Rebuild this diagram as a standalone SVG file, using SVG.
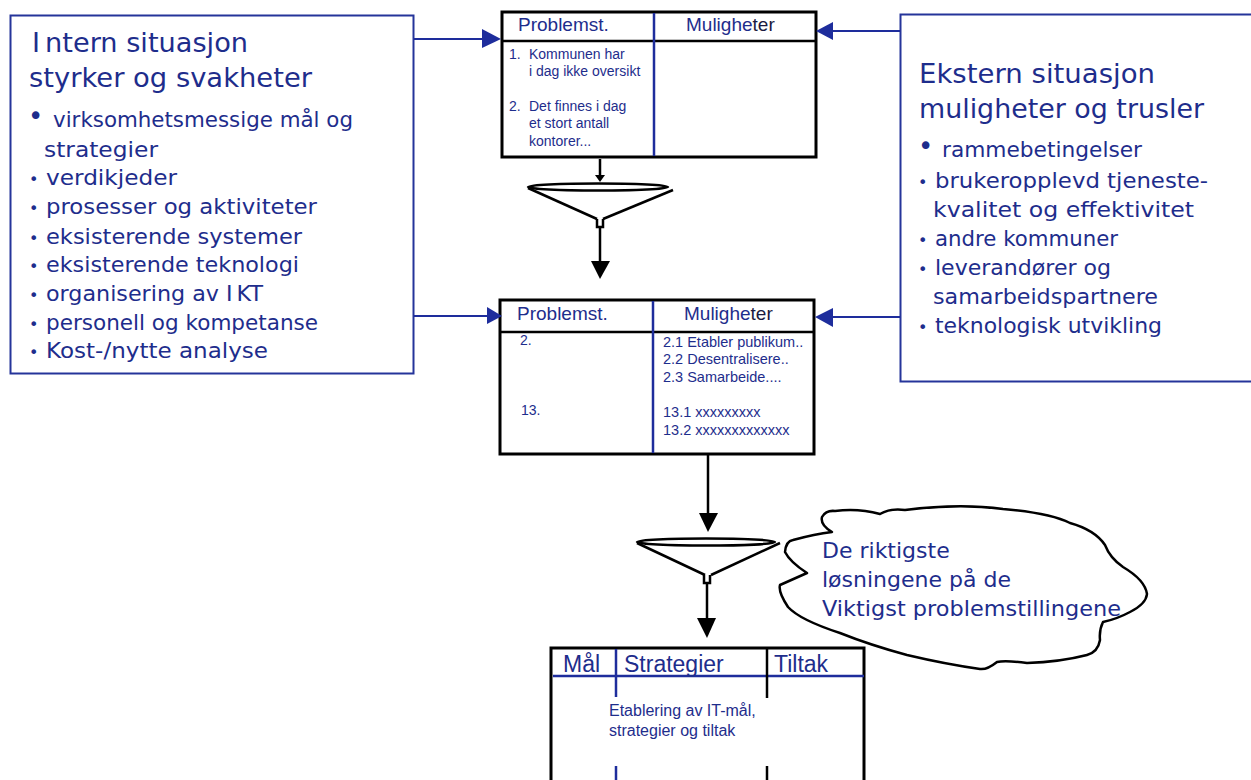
<svg xmlns="http://www.w3.org/2000/svg" width="1251" height="780" viewBox="0 0 1251 780">
<defs>
<style>
.bg{fill:#ffffff}
.box{fill:#ffffff;stroke:#25349a;stroke-width:2}
.tbl{fill:#ffffff;stroke:#000000;stroke-width:3}
.hl{stroke:#000000;stroke-width:2.5}
.bl{stroke:#1e2d9c;stroke-width:2.5}
.blk{stroke:#000000;stroke-width:2.5}
.conb{stroke:#1e2d9c;stroke-width:2;fill:none}
.headb{fill:#1e2d9c}
.con{stroke:#000000;stroke-width:2.5;fill:none}
.head{fill:#000000}
.fun{stroke:#000000;stroke-width:2.5;fill:none}
.t{fill:#1e2d8c}
.big{font-family:"DejaVu Sans",Verdana,sans-serif;font-size:27px}
.li{font-family:"DejaVu Sans",Verdana,sans-serif;font-size:22px}
.cl{font-family:"DejaVu Sans",Verdana,sans-serif;font-size:22px}
.th{font-family:"Liberation Sans",Arial,sans-serif;font-size:19px}
.tb{font-family:"Liberation Sans",Arial,sans-serif;font-size:14px}
.tb2{font-family:"Liberation Sans",Arial,sans-serif;font-size:14.5px}
.th3{font-family:"Liberation Sans",Arial,sans-serif;font-size:23px}
.tb3{font-family:"Liberation Sans",Arial,sans-serif;font-size:16px}
.dk{fill:#1a1a40}
.bs{font-family:"DejaVu Sans",sans-serif;font-size:16px}
.bb{font-family:"DejaVu Sans",sans-serif;font-size:26px}
</style>
</defs>
<rect class="bg" x="0" y="0" width="1251" height="780"/>

<g id="intern">
<rect class="box" x="10.5" y="15.5" width="403" height="358"/>
<text class="t big" x="32" y="52" textLength="216" lengthAdjust="spacingAndGlyphs">I<tspan dx="5">ntern situasjon</tspan></text>
<text class="t big" x="29" y="87" textLength="283" lengthAdjust="spacingAndGlyphs">styrker og svakheter</text>
<text class="t bb" x="28" y="125">•</text>
<text class="t li" x="53" y="127" textLength="300" lengthAdjust="spacingAndGlyphs">virksomhetsmessige mål og</text>
<text class="t li" x="44" y="157" textLength="114" lengthAdjust="spacingAndGlyphs">strategier</text>
<text class="t bs" x="29" y="185">•</text>
<text class="t li" x="46" y="185" textLength="131" lengthAdjust="spacingAndGlyphs">verdikjeder</text>
<text class="t bs" x="29" y="214">•</text>
<text class="t li" x="46" y="214" textLength="271" lengthAdjust="spacingAndGlyphs">prosesser og aktiviteter</text>
<text class="t bs" x="29" y="244">•</text>
<text class="t li" x="46" y="244" textLength="256" lengthAdjust="spacingAndGlyphs">eksisterende systemer</text>
<text class="t bs" x="29" y="272">•</text>
<text class="t li" x="46" y="272" textLength="253" lengthAdjust="spacingAndGlyphs">eksisterende teknologi</text>
<text class="t bs" x="29" y="301">•</text>
<text class="t li" x="46" y="301" textLength="217" lengthAdjust="spacingAndGlyphs">organisering av I<tspan dx="4">KT</tspan></text>
<text class="t bs" x="29" y="330">•</text>
<text class="t li" x="46" y="330" textLength="272" lengthAdjust="spacingAndGlyphs">personell og kompetanse</text>
<text class="t bs" x="29" y="358">•</text>
<text class="t li" x="46" y="358" textLength="222" lengthAdjust="spacingAndGlyphs">Kost-/nytte analyse</text>
</g>

<g id="ekstern">
<rect class="box" x="900.5" y="14.5" width="360" height="367"/>
<text class="t big" x="919" y="83" textLength="236" lengthAdjust="spacingAndGlyphs">Ekstern situasjon</text>
<text class="t big" x="919" y="118" textLength="285" lengthAdjust="spacingAndGlyphs">muligheter og trusler</text>
<text class="t bb" x="918" y="155">•</text>
<text class="t li" x="942" y="157" textLength="200" lengthAdjust="spacingAndGlyphs">rammebetingelser</text>
<text class="t bs" x="918" y="188">•</text>
<text class="t li" x="935" y="188" textLength="273" lengthAdjust="spacingAndGlyphs">brukeropplevd tjeneste-</text>
<text class="t li" x="933" y="217" textLength="261" lengthAdjust="spacingAndGlyphs">kvalitet og effektivitet</text>
<text class="t bs" x="918" y="246">•</text>
<text class="t li" x="935" y="246" textLength="183" lengthAdjust="spacingAndGlyphs">andre kommuner</text>
<text class="t bs" x="918" y="275">•</text>
<text class="t li" x="935" y="275" textLength="176" lengthAdjust="spacingAndGlyphs">leverandører og</text>
<text class="t li" x="933" y="304" textLength="225" lengthAdjust="spacingAndGlyphs">samarbeidspartnere</text>
<text class="t bs" x="918" y="333">•</text>
<text class="t li" x="935" y="333" textLength="227" lengthAdjust="spacingAndGlyphs">teknologisk utvikling</text>
</g>

<g id="table1">
<rect class="tbl" x="502" y="12" width="314" height="145"/>
<line class="hl" x1="502" y1="41" x2="816" y2="41"/>
<line class="bl" x1="654" y1="13" x2="654" y2="156"/>
<text class="t th" x="518" y="31">Problemst.</text>
<text class="t th" x="686" y="31">Mulighe<tspan class="dk">ter</tspan></text>
<text class="t tb"><tspan x="509" y="59">1.</tspan><tspan x="529" y="59">Kommunen har</tspan><tspan x="529" y="76">i dag ikke oversikt</tspan></text>
<text class="t tb"><tspan x="509" y="111">2.</tspan><tspan x="529" y="111">Det finnes i dag</tspan><tspan x="529" y="128">et stort antall</tspan><tspan x="529" y="146">kontorer...</tspan></text>
</g>

<g id="funnel1">
<ellipse class="fun" cx="598" cy="187" rx="70" ry="3.5" stroke-width="2"/>
<line class="fun" x1="528" y1="188" x2="597" y2="219"/>
<line class="fun" x1="673" y1="190" x2="603" y2="219"/>
<path class="fun" stroke-width="2" d="M597,219 V227 H603 V219"/>
</g>

<g id="table2">
<rect class="tbl" x="500" y="300" width="314" height="154"/>
<line class="hl" x1="500" y1="332" x2="814" y2="332"/>
<line class="bl" x1="653" y1="301" x2="653" y2="453"/>
<text class="t th" x="517" y="320">Problemst.</text>
<text class="t th" x="684" y="320">Mulighe<tspan class="dk">ter</tspan></text>
<text class="t tb" x="520" y="345">2.</text>
<text class="t tb" x="521" y="415">13.</text>
<text class="t tb2"><tspan x="663" y="347">2.1 Etabler publikum..</tspan><tspan x="663" y="364">2.2 Desentralisere..</tspan><tspan x="663" y="382">2.3 Samarbeide....</tspan><tspan x="663" y="417">13.1 xxxxxxxxx</tspan><tspan x="663" y="435">13.2 xxxxxxxxxxxxx</tspan></text>
</g>

<g id="funnel2">
<ellipse class="fun" cx="706" cy="542" rx="69" ry="3.5" stroke-width="2"/>
<line class="fun" x1="637" y1="543" x2="705" y2="575"/>
<line class="fun" x1="780" y1="543" x2="711" y2="575"/>
<path class="fun" stroke-width="2" d="M704,575 V583 H710 V575"/>
</g>

<g id="cloud">
<path fill="#ffffff" stroke="#000000" stroke-width="2.5" stroke-linejoin="round" d="M835,511 Q858,508 880,514 Q890,508 905,510 Q960,503 1003,509 Q1050,513 1070,523 Q1095,530 1105,545 Q1110,558 1123,567 Q1145,580 1147,594 Q1146,604 1130,612 Q1117,619 1103,622 Q1099,630 1100,640 Q1098,652 1087,655 Q1060,662 1027,663 Q1005,660 997,662 Q987,670 980,669 Q945,664 907,655 Q870,645 840,633 Q800,620 788,607 Q778,592 780,585 L807,573 Q790,562 785,552 Q786,541 793,540 Q815,534 832,532 Q820,525 822,517 Q826,510 835,511 Z"/>
<text class="t cl" x="822" y="558">De riktigste</text>
<text class="t cl" x="822" y="587">løsningene på de</text>
<text class="t cl" x="822" y="616" textLength="299" lengthAdjust="spacingAndGlyphs">Viktigst problemstillingene</text>
</g>

<g id="table3">
<rect class="tbl" x="551" y="648" width="313" height="145"/>
<line class="bl" x1="553" y1="676" x2="864" y2="676"/>
<line class="bl" x1="616" y1="649" x2="616" y2="697"/>
<line class="bl" x1="616" y1="766" x2="616" y2="780"/>
<line class="blk" x1="767" y1="649" x2="767" y2="698"/>
<line class="blk" x1="767" y1="766" x2="767" y2="780"/>
<text class="t th3" x="563" y="672">Mål</text>
<text class="t th3" x="624" y="672">Strategier</text>
<text class="t th3" x="774" y="672">Tiltak</text>
<text class="t tb3" x="609" y="716">Etablering av IT-mål,</text>
<text class="t tb3" x="609" y="736">strategier og tiltak</text>
</g>

<g id="connectors">
<line class="conb" x1="414" y1="39" x2="486" y2="39"/>
<polygon class="headb" points="482,29 501,39 482,48"/>
<line class="conb" x1="900" y1="31" x2="830" y2="31"/>
<polygon class="headb" points="833,22 816,31 833,40"/>
<line class="conb" x1="414" y1="316" x2="490" y2="316"/>
<polygon class="headb" points="487,307 502,316 487,324"/>
<line class="conb" x1="900" y1="317" x2="830" y2="317"/>
<polygon class="headb" points="833,308 815,317 833,327"/>
<line class="con" x1="600" y1="159" x2="600" y2="176"/>
<polygon class="head" points="595,175 605,175 600,182"/>
<line class="con" x1="600" y1="227" x2="600" y2="263"/>
<polygon class="head" points="591,261 610,261 600,279"/>
<line class="con" x1="708" y1="455" x2="708" y2="515"/>
<polygon class="head" points="699,513 718,513 708,532"/>
<line class="con" x1="707" y1="583" x2="707" y2="620"/>
<polygon class="head" points="697,618 716,618 707,638"/>
</g>
</svg>
